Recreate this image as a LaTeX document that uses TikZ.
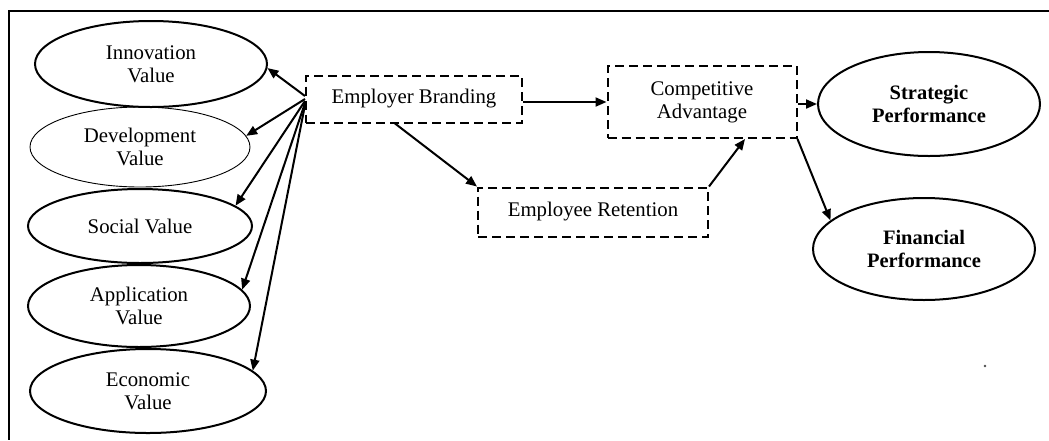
\documentclass[tikz,border=0pt]{standalone}
\usepackage{fontspec}
\setmainfont{Liberation Serif}
\usetikzlibrary{shapes.geometric,arrows.meta}
\begin{document}
\begin{tikzpicture}[x=1pt,y=-1pt,
  every node/.style={font=\fontsize{20.8}{23}\selectfont, align=center, inner sep=0pt},
  oval/.style={ellipse, draw, line width=2pt},
  thinoval/.style={ellipse, draw, line width=0.9pt},
  dbox/.style={draw, dash pattern=on 9pt off 5pt, line width=2pt},
  boldtext/.style={font=\fontsize{20.5}{23}\selectfont\bfseries},
  link/.style={line width=2pt, -{Triangle[length=11pt,width=9pt]}}]

\useasboundingbox (0,0) rectangle (1049,440);
% outer frame
\draw[line width=2pt] (1049,11) -- (9,11) -- (9,440);

% value dimensions
\node[oval, minimum width=232pt, minimum height=86pt] (inn) at (151,64) {Innovation\\Value};
\node[thinoval, minimum width=220pt, minimum height=80pt] (dev) at (140,147) {Development\\Value};
\node[oval, minimum width=224pt, minimum height=74pt] (soc) at (140,226) {Social Value};
\node[oval, minimum width=222pt, minimum height=82pt] (app) at (139,306) {Application\\Value};
\node[oval, minimum width=236pt, minimum height=84pt] (eco) at (148,391) {Economic\\Value};

% mediating constructs
\node[dbox, minimum width=216pt, minimum height=47pt] (eb) at (414,99) {Employer Branding};
\node[dbox, minimum width=189pt, minimum height=72pt] (ca) at (702,102) {Competitive\\Advantage};
\node[dbox, minimum width=230pt, minimum height=49pt] (er) at (593,212) {Employee Retention};

% outcomes
\node[oval, boldtext, minimum width=222pt, minimum height=104pt] (sp) at (929,104) {Strategic\\Performance};
\node[oval, boldtext, minimum width=222pt, minimum height=102pt] (fp) at (924,249) {Financial\\Performance};

\node[circle, fill=gray!60!black, inner sep=0pt, minimum size=2.6pt] (dot) at (985,366) {};

% employer branding to value dimensions
\draw[link] ([yshift=3pt]eb.west) -- (inn.-2);
\draw[link] (eb.west) -- (dev.6);
\draw[link] ([yshift=-2pt]eb.west) -- (soc.12);
\draw[link] ([yshift=-4pt]eb.west) -- (app.9);
\draw[link] ([yshift=-6pt]eb.west) -- (eco.11);

% structural paths
\draw[link] (eb.east |- ca.west) -- (ca.west);
\draw[link] ([xshift=-19pt]eb.south) -- (er.north west);
\draw[link] (er.north east) -- ([xshift=43pt]ca.south);
\draw[link] (ca.east |- sp.west) -- (sp.west);
\draw[link] (ca.south east) -- (fp.163);
\end{tikzpicture}
\end{document}
